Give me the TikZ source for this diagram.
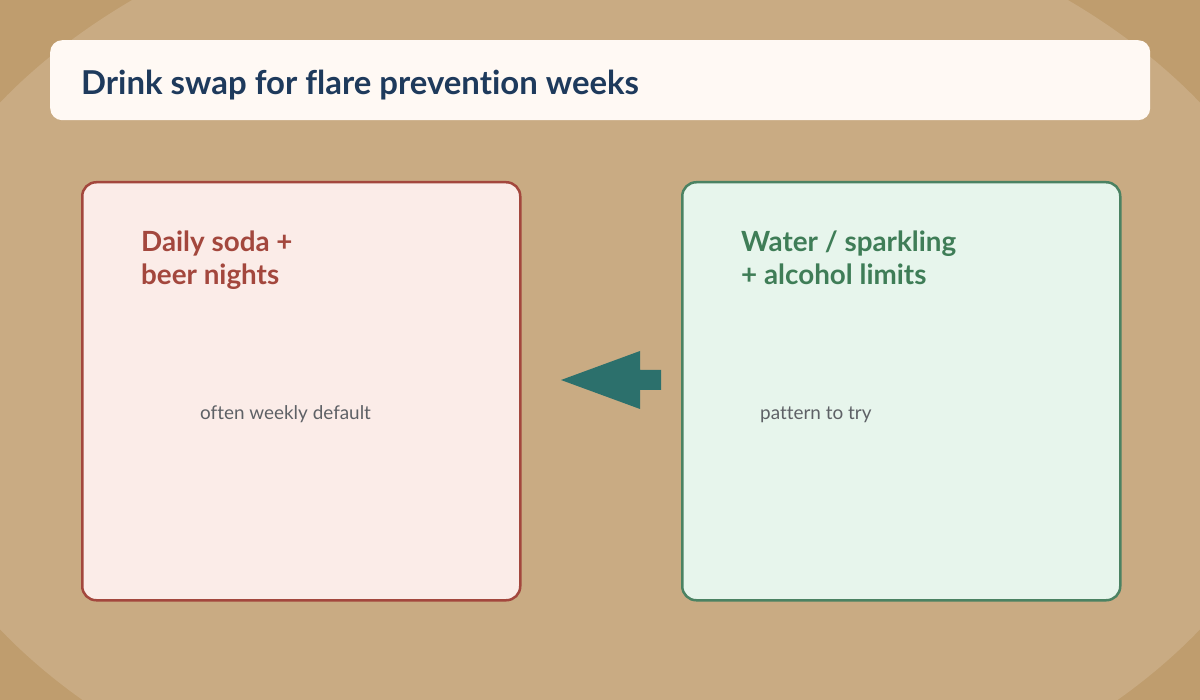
\documentclass[tikz,border=0pt]{standalone}
\usepackage{fontspec}
\setmainfont{Lato}[Ligatures=NoCommon]
\usepackage{tikz}

\definecolor{paperdark}{HTML}{BF9D6E}
\definecolor{paperlight}{HTML}{C9AB83}
\definecolor{titlefill}{HTML}{FFF9F4}
\definecolor{titleink}{HTML}{1E3A5C}
\definecolor{badline}{HTML}{A3473D}
\definecolor{badfill}{HTML}{FBECE8}
\definecolor{goodline}{HTML}{4B8262}
\definecolor{goodfill}{HTML}{E7F5EC}
\definecolor{goodink}{HTML}{3F7D57}
\definecolor{subink}{HTML}{5E6166}
\definecolor{swapcol}{HTML}{2C706C}

\begin{document}
\begin{tikzpicture}
    [x=1pt, y=1pt,
     every node/.style={inner sep=0pt},
     card/.style={draw, line width=2.5pt, rounded corners=14pt, anchor=north west},
     cardtitle/.style={anchor=base west, align=left, font=\bfseries\fontsize{27.8}{33}\selectfont},
     subtext/.style={anchor=base west, text=subink, font=\fontsize{18.9}{22}\selectfont}]

    % paper background
    \useasboundingbox (0,0) rectangle (1200,-700);
    \fill[paperdark] (0,0) rectangle (1200,-700);
    \fill[paperlight] (600,-366) ellipse [x radius=715, y radius=484];

    % heading
    \node[fill=titlefill, rounded corners=12pt, anchor=north west,
          minimum width=1100pt, minimum height=80pt] (head) at (50,-40) {};
    \node[anchor=base west, text=titleink, font=\bfseries\fontsize{32.9}{38}\selectfont]
      (headtext) at (81,-95) {Drink swap for flare prevention weeks};

    % the two cards
    \node[card, draw=badline, fill=badfill, minimum width=438pt, minimum height=418pt]
      (before) at (81,-181) {};
    \node[card, draw=goodline, fill=goodfill, minimum width=438pt, minimum height=418pt]
      (after) at (681,-181) {};

    % base of a two-line title sits on its second line
    \node[cardtitle, text=badline] (beforetitle) at (141,-285) {Daily soda +\\beer nights};
    \node[cardtitle, text=goodink] (aftertitle) at (741,-285) {Water / sparkling\\+ alcohol limits};

    \node[subtext] (beforesub) at (200,-420) {often weekly default};
    \node[subtext] (aftersub) at (760,-420) {pattern to try};

    % swap arrow
    \fill[swapcol] (561,-380) -- (640,-351) -- (640,-370) -- (661,-370)
      -- (661,-390) -- (640,-390) -- (640,-409) -- cycle;
\end{tikzpicture}
\end{document}
